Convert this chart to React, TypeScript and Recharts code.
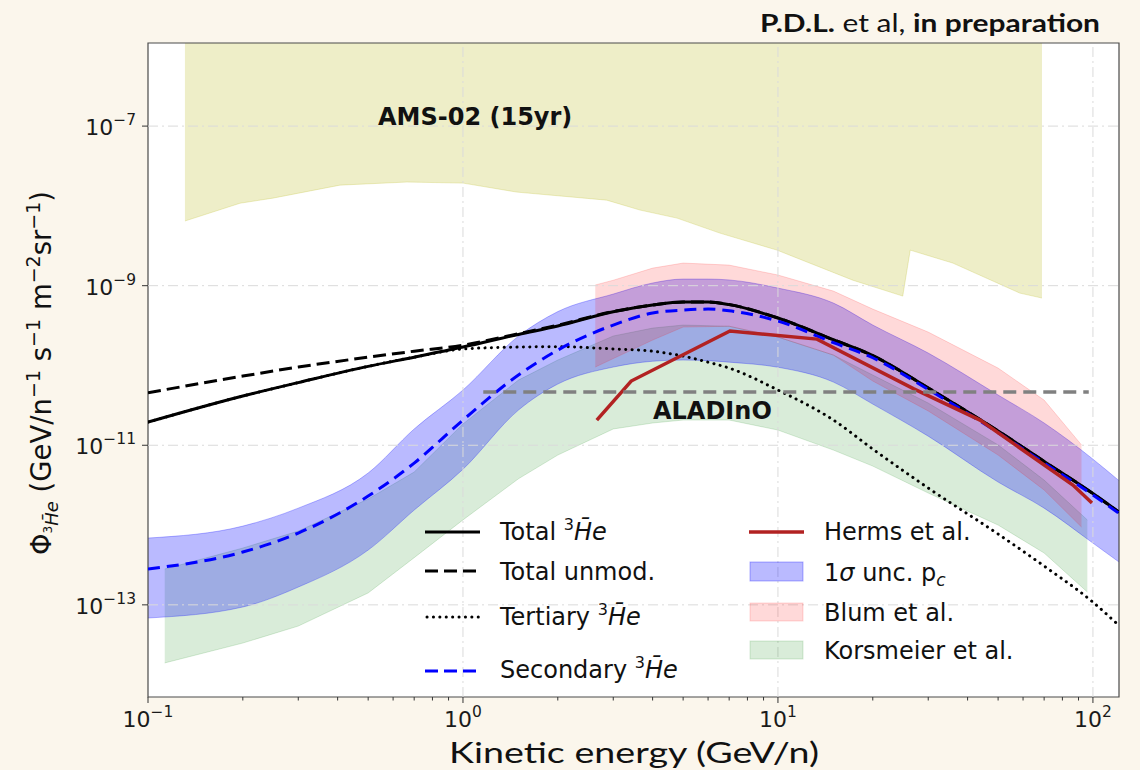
import React from "react";
import {
  ComposedChart,
  Area,
  Line,
  XAxis,
  YAxis,
  CartesianGrid,
  ReferenceLine,
  ReferenceArea,
} from "recharts";

const MPL = "'DejaVu Sans', sans-serif";
const SLIDE = "Lato, 'Open Sans', sans-serif";

// axis limits (GeV/n, flux)
const X_MIN = 0.1;
const X_MAX = 121;
const Y_MIN = 7.0e-15;
const Y_MAX = 1.1e-6;

const xMajor = [0.1, 1, 10, 100];
const xMinor = [0.2, 0.3, 0.4, 0.5, 0.6, 0.7, 0.8, 0.9, 2, 3, 4, 5, 6, 7, 8, 9, 20, 30, 40, 50, 60, 70, 80, 90];
const yMajor = [1e-13, 1e-11, 1e-9, 1e-7];
const gridX = [1, 10, 100];

// model curves
const modelE = [0.1, 0.2, 0.3, 0.5, 0.7, 1, 1.5, 2, 3, 4, 5, 6, 7, 10, 15, 20, 30, 50, 70, 100, 121];
const totalFlux = [1.95e-11, 4.14e-11, 6.1e-11, 9.75e-11, 1.27e-10, 1.7e-10, 2.45e-10, 3.12e-10, 4.71e-10, 5.71e-10, 6.23e-10, 6.23e-10, 5.79e-10, 3.93e-10, 2.1e-10, 1.33e-10, 5.22e-11, 1.51e-11, 6.28e-12, 2.48e-12, 1.45e-12];
const unmodFlux = [4.55e-11, 7.36e-11, 9.55e-11, 1.27e-10, 1.51e-10, 1.8e-10, 2.5e-10, 3.2e-10, 4.75e-10, 5.73e-10, 6.24e-10, 6.24e-10, 5.8e-10, 3.93e-10, 2.1e-10, 1.33e-10, 5.22e-11, 1.51e-11, 6.28e-12, 2.48e-12, 1.45e-12];
const tertiaryFlux = [1.95e-11, 4.14e-11, 6.1e-11, 9.75e-11, 1.27e-10, 1.61e-10, 1.7e-10, 1.72e-10, 1.61e-10, 1.51e-10, 1.31e-10, 1.1e-10, 9.27e-11, 4.92e-11, 2.07e-11, 8.96e-12, 2.91e-12, 7.71e-13, 3.06e-13, 1.08e-13, 5.5e-14];
const secondaryFlux = [2.81e-13, 4.59e-13, 7.94e-13, 2.31e-12, 5.98e-12, 2.07e-11, 7.6e-11, 1.56e-10, 3.21e-10, 4.54e-10, 4.94e-10, 5.09e-10, 4.85e-10, 3.6e-10, 1.93e-10, 1.25e-10, 5.0e-11, 1.44e-11, 6.0e-12, 2.38e-12, 1.4e-12];
const pcLo = [6.84e-14, 9.4e-14, 1.67e-13, 4.86e-13, 1.54e-12, 5.0e-12, 2.76e-11, 5.85e-11, 9.55e-11, 1.13e-10, 1.17e-10, 1.15e-10, 1.1e-10, 9.5e-11, 6.19e-11, 3.28e-11, 1.3e-11, 3.46e-12, 1.63e-12, 5.94e-13, 3.44e-13];
const pcHi = [6.87e-13, 9.7e-13, 1.63e-12, 4.49e-12, 1.6e-11, 4.92e-11, 2.33e-10, 4.73e-10, 7.85e-10, 1.08e-9, 1.21e-9, 1.21e-9, 1.18e-9, 9.33e-10, 6.05e-10, 3.21e-10, 1.43e-10, 4.26e-11, 1.9e-11, 6.7e-12, 3.6e-12];

// Korsmeier et al.
const korsE = [0.113, 0.2, 0.3, 0.5, 0.7, 1, 1.5, 2, 3, 4, 5, 7, 10, 15, 20, 30, 50, 70, 96];
const korsLo = [1.87e-14, 3.32e-14, 5.42e-14, 1.41e-13, 3.9e-13, 1.16e-12, 3.8e-12, 7.54e-12, 1.6e-11, 1.9e-11, 2.07e-11, 2.07e-11, 1.55e-11, 8.7e-12, 5.48e-12, 2.52e-12, 1.0e-12, 4.46e-13, 1.45e-13];
const korsHi = [2.81e-13, 5.15e-13, 8.41e-13, 2.12e-12, 4.62e-12, 1.85e-11, 6.56e-11, 1.17e-10, 2.34e-10, 2.94e-10, 3.21e-10, 3.1e-10, 2.27e-10, 1.35e-10, 7.58e-11, 3.38e-11, 1.01e-11, 3.66e-12, 1.16e-12];

// Blum et al.
const blumE = [2.63, 3, 4, 5, 7, 10, 15, 20, 30, 50, 70, 92];
const blumLo = [9.55e-11, 1.22e-10, 2.08e-10, 3.03e-10, 3.1e-10, 2.27e-10, 1.35e-10, 6.38e-11, 2.69e-11, 7.54e-12, 2.75e-12, 9.44e-13];
const blumHi = [1.02e-9, 1.17e-9, 1.66e-9, 1.92e-9, 1.81e-9, 1.36e-9, 8.55e-10, 5.09e-10, 2.62e-10, 9.27e-11, 3.68e-11, 1.01e-11];

// Herms et al.
const hermsE = [2.66, 3.42, 7.04, 13.3, 27, 43.8, 86.4, 99.3];
const hermsFlux = [2.07e-11, 6.38e-11, 2.7e-10, 2.14e-10, 5.1e-11, 2.07e-11, 3.17e-12, 1.89e-12];

// AMS-02 (15yr) sensitivity region
const amsE = [0.131, 0.196, 0.249, 0.407, 0.664, 1.0, 1.48, 2.86, 3.65, 4.78, 6.54, 9.93, 17.3, 24.9, 26.3, 35.9, 58.6, 68.9];
const amsLo = [6.46e-9, 1.08e-8, 1.25e-8, 1.82e-8, 1.99e-8, 1.93e-8, 1.49e-8, 1.18e-8, 8.86e-9, 7.03e-9, 4.56e-9, 2.79e-9, 1.17e-9, 7.41e-10, 2.79e-9, 1.92e-9, 8.07e-10, 7.0e-10];
const amsHi = [1e-5, 1e-5, 1e-5, 1e-5, 1e-5, 1e-5, 1e-5, 1e-5, 1e-5, 1e-5, 1e-5, 1e-5, 1e-5, 1e-5, 1e-5, 1e-5, 1e-5, 1e-5];

// ALADInO sensitivity
const aladinoE = [1.16, 97];
const aladinoFlux = [4.64e-11, 4.64e-11];

const modelRows = modelE.map((e, i) => ({
  e,
  total: totalFlux[i],
  unmod: unmodFlux[i],
  tert: tertiaryFlux[i],
  sec: secondaryFlux[i],
  band: [pcLo[i], pcHi[i]],
}));
const korsRows = korsE.map((e, i) => ({ e, band: [korsLo[i], korsHi[i]] }));
const blumRows = blumE.map((e, i) => ({ e, band: [blumLo[i], blumHi[i]] }));
const amsRows = amsE.map((e, i) => ({ e, band: [amsLo[i], amsHi[i]] }));
const hermsRows = hermsE.map((e, i) => ({ e, v: hermsFlux[i] }));
const aladinoRows = aladinoE.map((e, i) => ({ e, v: aladinoFlux[i] }));

const expLabel = (v: number) => {
  const p = Math.round(Math.log10(v));
  return p < 0 ? "\u2212" + String(-p) : String(p);
};
const isMajor = (v: number) => {
  const l = Math.log10(v);
  return Math.abs(l - Math.round(l)) < 1e-6;
};

function XTick(props: any) {
  const { x, y, payload } = props;
  const v = payload.value as number;
  const ay = y - 8;
  const major = isMajor(v);
  return (
    <g>
      <line x1={x} x2={x} y1={ay} y2={ay + (major ? 6 : 3.5)} stroke="#333" strokeWidth={1} />
      {major && (
        <text x={x} y={ay + 30} textAnchor="middle" fontFamily={MPL} fontSize={22} fill="#1a1a1a">
          10
          <tspan fontSize={15.5} dy={-10}>
            {expLabel(v)}
          </tspan>
        </text>
      )}
    </g>
  );
}

function YTick(props: any) {
  const { x, y, payload } = props;
  const v = payload.value as number;
  const ax = x + 8;
  return (
    <g>
      <line x1={ax - 6} x2={ax} y1={y} y2={y} stroke="#333" strokeWidth={1} />
      <text x={ax - 12} y={y + 9} textAnchor="end" fontFamily={MPL} fontSize={22} fill="#1a1a1a">
        10
        <tspan fontSize={15.5} dy={-10}>
          {expLabel(v)}
        </tspan>
      </text>
    </g>
  );
}

const HE = "H\u0304e";

function Legend() {
  const t = { fontFamily: MPL, fontSize: 24, fill: "#111" } as const;
  return (
    <g>
      <line x1={425} x2={480} y1={532} y2={532} stroke="#000" strokeWidth={3} />
      <text x={500} y={540} {...t}>
        Total <tspan fontSize={16} dy={-10}>3</tspan>
        <tspan fontStyle="italic" dy={10}>{HE}</tspan>
      </text>

      <line x1={425} x2={480} y1={571} y2={571} stroke="#000" strokeWidth={3} strokeDasharray="13 6" />
      <text x={500} y={580} {...t}>Total unmod.</text>

      <line x1={427} x2={480} y1={617} y2={617} stroke="#000" strokeWidth={3} strokeDasharray="0.1 6.3" strokeLinecap="round" />
      <text x={500} y={625} {...t}>
        Tertiary <tspan fontSize={16} dy={-10}>3</tspan>
        <tspan fontStyle="italic" dy={10}>{HE}</tspan>
      </text>

      <line x1={425} x2={480} y1={671} y2={671} stroke="#0000ff" strokeWidth={3} strokeDasharray="13 6" />
      <text x={500} y={678} {...t}>
        Secondary <tspan fontSize={16} dy={-10}>3</tspan>
        <tspan fontStyle="italic" dy={10}>{HE}</tspan>
      </text>

      <line x1={749} x2={804} y1={532} y2={532} stroke="#b22222" strokeWidth={3.5} />
      <text x={824} y={540} {...t}>Herms et al.</text>

      <rect x={750} y={562} width={53} height={19} fill="#0000ff" fillOpacity={0.27} stroke="#0000ff" strokeOpacity={0.3} />
      <text x={824} y={581} {...t}>
        1<tspan fontStyle="italic">σ</tspan> unc. p<tspan fontSize={17} fontStyle="italic" dy={5}>c</tspan>
      </text>

      <rect x={750} y={603} width={53} height={18} fill="#ff0000" fillOpacity={0.15} stroke="#ff0000" strokeOpacity={0.15} />
      <text x={824} y={621} {...t}>Blum et al.</text>

      <rect x={750} y={641} width={53} height={18} fill="#008000" fillOpacity={0.15} stroke="#008000" strokeOpacity={0.15} />
      <text x={824} y={659} {...t}>Korsmeier et al.</text>
    </g>
  );
}

export default function App() {
  return (
    <div style={{ position: "absolute", left: 0, top: 0, width: 1140, height: 770, background: "#fbf6ec", overflow: "hidden" }}>
      <ComposedChart width={1140} height={770} data={modelRows} margin={{ top: 43, right: 21, bottom: 0, left: 0 }}>
        <CartesianGrid fill="#ffffff" horizontal={false} vertical={false} />
        <XAxis
          dataKey="e"
          type="number"
          scale="log"
          domain={[X_MIN, X_MAX]}
          allowDataOverflow
          ticks={[...xMajor, ...xMinor]}
          interval={0}
          tick={<XTick />}
          tickLine={false}
          tickSize={6}
          tickMargin={2}
          axisLine={false}
          height={73}
        />
        <YAxis
          type="number"
          scale="log"
          domain={[Y_MIN, Y_MAX]}
          allowDataOverflow
          ticks={yMajor}
          interval={0}
          tick={<YTick />}
          tickLine={false}
          tickSize={6}
          tickMargin={2}
          axisLine={false}
          width={148}
        />

        <Area data={amsRows} dataKey="band" type="linear" fill="#bcbd22" fillOpacity={0.25} stroke="#bcbd22" strokeOpacity={0.25} strokeWidth={1} isAnimationActive={false} />
        <Area data={korsRows} dataKey="band" type="linear" fill="#008000" fillOpacity={0.15} stroke="#008000" strokeOpacity={0.15} strokeWidth={1} isAnimationActive={false} />
        <Area dataKey="band" type="monotone" fill="#0000ff" fillOpacity={0.27} stroke="#0000ff" strokeOpacity={0.27} strokeWidth={1} isAnimationActive={false} />
        <Area data={blumRows} dataKey="band" type="linear" fill="#ff0000" fillOpacity={0.15} stroke="#ff0000" strokeOpacity={0.15} strokeWidth={1} isAnimationActive={false} />

        {yMajor.map((v) => (
          <ReferenceLine key={"gy" + v} y={v} stroke="#dadada" strokeWidth={1} strokeDasharray="10 4 2 4" />
        ))}
        {gridX.map((v) => (
          <ReferenceLine key={"gx" + v} x={v} stroke="#dadada" strokeWidth={1} strokeDasharray="10 4 2 4" />
        ))}

        <Line dataKey="tert" type="monotone" stroke="#000" strokeWidth={3} strokeDasharray="0.1 6.3" strokeLinecap="round" dot={false} activeDot={false} isAnimationActive={false} />
        <Line dataKey="unmod" type="monotone" stroke="#000" strokeWidth={3} strokeDasharray="13 6" dot={false} activeDot={false} isAnimationActive={false} />
        <Line dataKey="total" type="monotone" stroke="#000" strokeWidth={3} dot={false} activeDot={false} isAnimationActive={false} />
        <Line dataKey="sec" type="monotone" stroke="#0000ff" strokeWidth={3} strokeDasharray="12 7" dot={false} activeDot={false} isAnimationActive={false} />
        <Line data={hermsRows} dataKey="v" type="linear" stroke="#b22222" strokeWidth={3.5} dot={false} activeDot={false} isAnimationActive={false} />
        <Line data={aladinoRows} dataKey="v" type="linear" stroke="#808080" strokeWidth={3.5} strokeDasharray="13 7" dot={false} activeDot={false} isAnimationActive={false} />

        <ReferenceArea x1={X_MIN} x2={X_MAX} y1={Y_MIN} y2={Y_MAX} fill="none" stroke="#4a4a4a" strokeWidth={1.2} ifOverflow="visible" />
      </ComposedChart>

      <svg width={1140} height={770} style={{ position: "absolute", left: 0, top: 0, pointerEvents: "none" }}>
        <text x={1100} y={32} textAnchor="end" fontFamily={SLIDE} fontSize={25} fill="#111" textLength={340} lengthAdjust="spacingAndGlyphs">
          <tspan fontWeight={700}>P.D.L.</tspan>
          {" et al, "}
          <tspan fontWeight={700}>in preparation</tspan>
        </text>

        <text x={634} y={763} textAnchor="middle" fontFamily={SLIDE} fontSize={29} fill="#111" textLength={370} lengthAdjust="spacingAndGlyphs">
          Kinetic energy (GeV/n)
        </text>

        <text transform="translate(51,373) rotate(-90)" textAnchor="middle" fontFamily={MPL} fontSize={27.5} fill="#111">
          {"\u03a6"}
          <tspan fontSize={12} dy={1}>3</tspan>
          <tspan fontSize={18} fontStyle="italic" dy={6}>{HE}</tspan>
          <tspan fontSize={27.5} dy={-7}>{" (GeV/n"}</tspan>
          <tspan fontSize={19} dy={-11}>{"\u22121"}</tspan>
          <tspan fontSize={27.5} dy={11}>{" s"}</tspan>
          <tspan fontSize={19} dy={-11}>{"\u22121"}</tspan>
          <tspan fontSize={27.5} dy={11}>{" m"}</tspan>
          <tspan fontSize={19} dy={-11}>{"\u22122"}</tspan>
          <tspan fontSize={27.5} dy={11}>sr</tspan>
          <tspan fontSize={19} dy={-11}>{"\u22121"}</tspan>
          <tspan fontSize={27.5} dy={11}>)</tspan>
        </text>

        <text x={378} y={125} fontFamily={MPL} fontSize={24} fontWeight={700} fill="#111">
          AMS-02 (15yr)
        </text>
        <text x={653} y={419} fontFamily={MPL} fontSize={24} fontWeight={700} fill="#111">
          ALADInO
        </text>

        <Legend />
      </svg>
    </div>
  );
}
